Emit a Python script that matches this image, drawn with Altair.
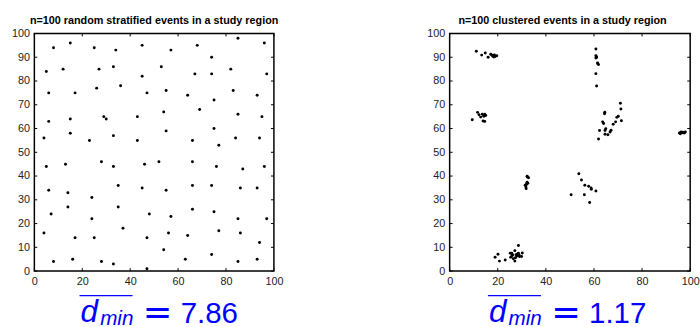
import altair as alt
import pandas as pd

# Plot-area height of both panels, in pixels
PANEL_H = 242

# Random stratified pattern: one event per stratum
strat_x = [8, 15, 25, 34, 45, 57, 68, 74, 85, 96,
           5, 12, 27, 33, 45, 53, 67, 74, 82, 97,
           6, 17, 26, 36, 47, 55, 64, 75, 83, 93,
           6, 15, 29, 30, 43, 54, 69, 85, 95,
           4, 15, 23, 33, 43, 55, 66, 75, 77, 84, 94,
           4, 5, 6, 7, 8, 13, 14, 14, 16, 17,
           24, 24, 25, 28, 28, 33, 33, 35, 35, 37,
           45, 46, 47, 47, 48, 52, 54, 55, 56, 57,
           63, 64, 66, 66, 66, 74, 74, 75, 76, 77,
           85, 85, 86, 86, 87, 93, 93, 94, 96, 97]
strat_y = [94, 96, 94, 93, 95, 93, 95, 90, 98, 96,
           84, 85, 85, 86, 82, 86, 83, 83, 85, 83,
           75, 75, 77, 78, 75, 76, 74, 72, 76, 74,
           63, 64, 65, 64, 65, 67, 68, 66, 65,
           56, 58, 55, 57, 55, 59, 55, 60, 53, 56, 56,
           16, 44, 34, 24, 4, 45, 33, 27, 5, 14,
           31, 22, 14, 46, 4, 44, 3, 36, 27, 18,
           35, 45, 14, 1, 24, 46, 9, 34, 16, 23,
           5, 15, 46, 36, 26, 36, 7, 25, 44, 17,
           22, 4, 35, 16, 43, 35, 5, 12, 44, 22]

# Clustered pattern: eight tight groups of events
clust_x = [11.1, 13.3, 14.8, 16.0, 17.1, 18.0, 18.6, 18.4, 19.6, 18.9, 17.6,
           9.4, 11.6, 12.2, 12.9, 13.6, 14.6, 13.9, 14.6, 15.0, 14.2,
           60.8, 60.8, 61.1, 60.8, 61.5, 61.9, 60.8, 61.1, 61.0, 61.6,
           71.0, 71.2, 71.4, 64.5, 64.4, 63.6, 64.0, 68.0, 69.0, 69.5,
           70.1, 62.3, 64.9, 64.6, 64.6, 65.8, 66.7, 67.1, 61.9,
           95.5, 96.2, 96.9, 97.6, 98.0, 95.9, 96.6, 97.2,
           32.2, 32.8, 32.0, 32.5, 31.4, 31.7, 31.8, 32.2, 32.3, 31.9,
           53.7, 54.8, 56.2, 50.5, 56.0, 57.8, 58.9, 58.8, 60.8, 58.2,
           28.6, 18.9, 20.1, 20.7, 23.1, 25.2, 25.8, 25.4, 26.5, 27.1, 27.1,
           27.6, 28.2, 27.9, 28.6, 29.0, 30.2, 29.9, 25.9, 27.4, 26.2, 28.9]
clust_y = [92.5, 90.9, 91.8, 90.0, 91.3, 90.4, 91.0, 90.1, 90.6, 90.3, 90.8,
           63.7, 66.8, 65.8, 64.8, 66.0, 66.0, 63.2, 63.0, 65.5, 65.2,
           93.5, 90.6, 90.1, 89.7, 87.6, 86.9, 83.1, 77.9, 89.9, 87.3,
           70.6, 68.2, 63.3, 66.9, 66.2, 62.8, 62.1, 61.8, 62.8, 64.7,
           65.2, 59.2, 59.9, 59.2, 57.6, 57.4, 58.5, 59.3, 55.6,
           58.1, 58.5, 58.4, 58.1, 58.5, 57.8, 58.2, 58.2,
           39.9, 39.3, 36.8, 37.0, 36.1, 35.4, 34.7, 37.4, 39.6, 36.4,
           41.0, 38.3, 36.1, 32.1, 32.1, 35.7, 34.4, 35.0, 33.7, 28.9,
           10.8, 5.8, 7.1, 4.2, 4.7, 7.5, 7.5, 5.8, 5.2, 8.6, 4.2,
           6.9, 7.2, 6.3, 7.5, 6.1, 7.6, 6.1, 6.4, 5.6, 6.8, 6.8]

x_ticks = [0, 20, 40, 60, 80, 100]
y_ticks = [0, 10, 20, 30, 40, 50, 60, 70, 80, 90, 100]

panel_titles = ["n=100 random stratified events in a study region",
                "n=100 clustered events in a study region"]
dmin_values = ["7.86", "1.17"]

FONT = "Liberation Sans"
BLUE = "#0000ff"
TICK_LEN = 3


def text_layer(s, **mark):
    return alt.Chart(pd.DataFrame({"s": [s]})).mark_text(**mark)


def panel(xs, ys, title, dmin, width, dx):
    """One scatter panel with a boxed frame, inward ticks and the mean
    nearest-neighbour distance written underneath."""
    sx = alt.Scale(domain=[0, 100], nice=False, zero=False)
    sy = alt.Scale(domain=[0, 100], nice=False, zero=False)
    axis_common = dict(ticks=False, domain=False, grid=False, title=None,
                       labelFont=FONT, labelFontSize=11, labelColor="#222222",
                       labelPadding=5, labelFlush=False)
    ax_x = alt.Axis(values=x_ticks, **axis_common)
    ax_y = alt.Axis(values=y_ticks, **axis_common)

    dots = alt.Chart(pd.DataFrame({"x": xs, "y": ys})).mark_circle(
        size=9, color="black", opacity=1
    ).encode(
        x=alt.X("x:Q", scale=sx, axis=ax_x),
        y=alt.Y("y:Q", scale=sy, axis=ax_y),
    )

    xt = alt.Chart(pd.DataFrame({"t": x_ticks}))
    yt = alt.Chart(pd.DataFrame({"t": y_ticks}))
    rule = dict(color="black", strokeWidth=1)
    tick_bottom = xt.mark_rule(**rule).encode(
        x=alt.X("t:Q", scale=sx, axis=ax_x),
        y=alt.value(PANEL_H), y2=alt.value(PANEL_H - TICK_LEN))
    tick_top = xt.mark_rule(**rule).encode(
        x=alt.X("t:Q", scale=sx, axis=ax_x),
        y=alt.value(0), y2=alt.value(TICK_LEN))
    tick_left = yt.mark_rule(**rule).encode(
        y=alt.Y("t:Q", scale=sy, axis=ax_y),
        x=alt.value(0), x2=alt.value(TICK_LEN))
    tick_right = yt.mark_rule(**rule).encode(
        y=alt.Y("t:Q", scale=sy, axis=ax_y),
        x=alt.value(width), x2=alt.value(width - TICK_LEN))

    head = text_layer(title, font=FONT, fontSize=11, fontWeight="bold",
                      color="black", align="center", baseline="alphabetic"
                      ).encode(text="s:N", x=alt.value(122 + dx),
                               y=alt.value(-10))

    # mean nearest-neighbour distance: overlined d with subscript "min"
    d_sym = text_layer("d", font=FONT, fontSize=32, fontStyle="italic",
                       color=BLUE, align="left", baseline="alphabetic"
                       ).encode(text="s:N", x=alt.value(47 + dx), y=alt.value(294))
    d_sub = text_layer("min", font=FONT, fontSize=21, fontStyle="italic",
                       color=BLUE, align="left", baseline="alphabetic"
                       ).encode(text="s:N", x=alt.value(67 + dx), y=alt.value(297))
    d_bar = alt.Chart(pd.DataFrame({"s": [0]})).mark_rule(
        color=BLUE, strokeWidth=1.5
    ).encode(x=alt.value(46 + dx), x2=alt.value(100 + dx), y=alt.value(267))
    eq = text_layer("=", font="DejaVu Sans", fontSize=36, color=BLUE,
                    align="center", baseline="alphabetic"
                    ).encode(text="s:N", x=alt.value(125.5 + dx), y=alt.value(296))
    val = text_layer(dmin, font=FONT, fontSize=30, color=BLUE,
                     align="left", baseline="alphabetic"
                     ).encode(text="s:N", x=alt.value(149 + dx), y=alt.value(295))

    return alt.layer(
        dots, tick_bottom, tick_top, tick_left, tick_right,
        head, d_sym, d_sub, d_bar, eq, val
    ).properties(width=width, height=PANEL_H)


left = panel(strat_x, strat_y, panel_titles[0], dmin_values[0], 244, 0)
right = panel(clust_x, clust_y, panel_titles[1], dmin_values[1], 245, -7)

chart = alt.hconcat(left, right, spacing=179, bounds="flush").configure_view(
    stroke="black", strokeWidth=1.5
).properties(
    padding={"left": 10, "top": 11, "right": 0, "bottom": 0},
    background="white",
)

chart.save("out.html", embed_options={"renderer": "svg", "actions": False})
